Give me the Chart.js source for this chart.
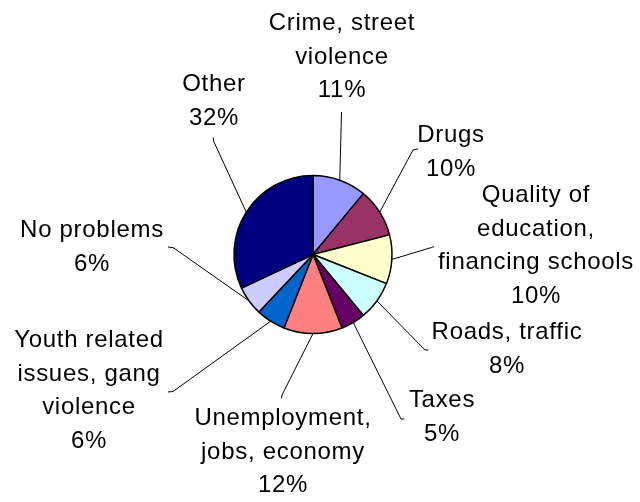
<!DOCTYPE html>
<html>
<head>
<meta charset="utf-8">
<script src="https://cdn.jsdelivr.net/npm/chart.js@4"></script>
<style>
  html, body { margin: 0; padding: 0; background: #fff; }
  #wrap { width: 640px; height: 502px; }
</style>
</head>
<body>
<div id="wrap"><canvas id="pieChart" width="640" height="502"></canvas></div>
<script>
// data
const categories = [
  ['Crime, street', 'violence'],
  ['Drugs'],
  ['Quality of', 'education,', 'financing schools'],
  ['Roads, traffic'],
  ['Taxes'],
  ['Unemployment,', 'jobs, economy'],
  ['Youth related', 'issues, gang', 'violence'],
  ['No problems'],
  ['Other']
];
const values = [11, 10, 10, 8, 5, 12, 6, 6, 32];
const colors = ['#9999FF', '#993366', '#FFFFCC', '#CCFFFF', '#660066', '#FF8080', '#0066CC', '#CCCCFF', '#000080'];

// where each label sits : text centre x, first baseline y, leader end, tick end
const labelPos = [
  { x: 342, y: 30,  end: [341.5, 112], tick: [341.5, 112] },
  { x: 451, y: 142, end: [413, 150],   tick: [418, 149] },
  { x: 536, y: 202, end: [431.5, 247.5], tick: [434, 246.5] },
  { x: 507, y: 339, end: [425, 350],   tick: [428.5, 350] },
  { x: 442, y: 407, end: [401, 419],   tick: [404.5, 419] },
  { x: 283, y: 425, end: [282, 395],   tick: [281.5, 398.5] },
  { x: 89,  y: 347, end: [173, 391.5], tick: [168, 392] },
  { x: 92,  y: 237, end: [173, 247.5], tick: [168, 247] },
  { x: 214, y: 91,  end: [213.5, 141], tick: [213.3, 137.5] }
];
const lineGap = 33.5;

// labels + leader lines
const outsideLabels = {
  id: 'outsideLabels',
  afterDraw(chart) {
    const c = chart.ctx;
    const arcs = chart.getDatasetMeta(0).data;
    c.save();
    arcs.forEach((arc, i) => {
      const p = labelPos[i];
      const mid = (arc.startAngle + arc.endAngle) / 2;
      const ex = arc.x + Math.cos(mid) * arc.outerRadius;
      const ey = arc.y + Math.sin(mid) * arc.outerRadius;
      c.strokeStyle = '#000';
      c.lineWidth = 1;
      c.beginPath();
      c.moveTo(ex, ey);
      c.lineTo(p.end[0], p.end[1]);
      c.lineTo(p.tick[0], p.tick[1]);
      c.stroke();

      const lines = categories[i].concat([values[i] + '%']);
      c.fillStyle = '#000';
      c.font = '24px "Liberation Sans", Arial, sans-serif';
      c.letterSpacing = '0.7px';
      c.textAlign = 'center';
      c.textBaseline = 'alphabetic';
      lines.forEach((t, k) => {
        c.fillText(t, p.x, p.y + k * lineGap);
      });
    });
    c.restore();
  }
};

const ctx = document.getElementById('pieChart').getContext('2d');
const pieChart = new Chart(ctx, {
  type: 'pie',
  data: {
    labels: categories,
    datasets: [{
      data: values,
      backgroundColor: colors,
      borderColor: '#000',
      borderWidth: 1.5,
      radius: 79
    }]
  },
  options: {
    responsive: false,
    animation: false,
    layout: {
      padding: { left: 233, right: 247, top: 174, bottom: 167 }
    },
    plugins: {
      legend: { display: false },
      tooltip: { enabled: false }
    }
  },
  plugins: [outsideLabels]
});
</script>
</body>
</html>
